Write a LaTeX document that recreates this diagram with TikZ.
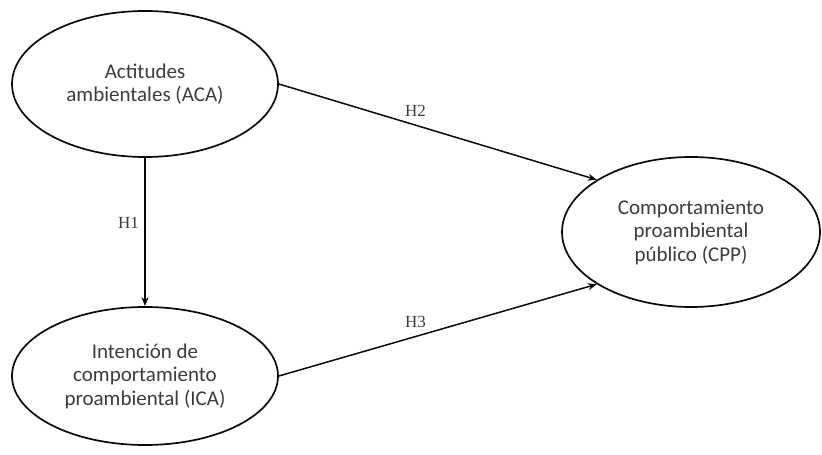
\documentclass[tikz,border=0pt]{standalone}
\usepackage{fontspec}
\setmainfont{Carlito}
\newfontfamily\hypfont{Liberation Serif}
\usepackage{tikz}
\usepackage{xcolor}
\usetikzlibrary{shapes.geometric, arrows.meta, positioning}
\definecolor{cText}{RGB}{60,60,60}
\definecolor{cLine}{RGB}{10,10,10}
\tikzset{
	construct/.style={ellipse, draw=cLine, line width=1.7pt, text=cText, align=center, font=\fontsize{21}{23.5}\selectfont, minimum width=266pt, minimum height=146pt, inner sep=2pt},
	hyparrow/.style ={-{Stealth[length=9pt, width=7pt]}, draw=cLine, line width=1.5pt},
	hyplabel/.style ={font=\hypfont\fontsize{17}{19}\selectfont, text=cText},
}
\begin{document}
\begin{tikzpicture}[x=1pt, y=1pt]
	\useasboundingbox (0,0) rectangle (822,455);
	% constructs
	\node[construct] (aca) at (145,371) {Actitudes\\ambientales (ACA)};
	\node[construct, minimum height=138pt] (ica) at (145,79) {Intención de\\comportamiento\\proambiental (ICA)};
	\node[construct, minimum width=258pt, minimum height=150pt] (cpp) at (691,223) {Comportamiento\\proambiental\\público (CPP)};
	% hypotheses
	\draw[hyparrow] (aca.south) -- node[hyplabel, pos=0.44, left=2pt] {H1} (ica.north);
	\draw[hyparrow] (aca.east) -- node[hyplabel, pos=0.43, above=5pt] {H2} (cpp.151);
	\draw[hyparrow] (ica.east) -- node[hyplabel, pos=0.43, above=5pt] {H3} (cpp.209);
\end{tikzpicture}
\end{document}
